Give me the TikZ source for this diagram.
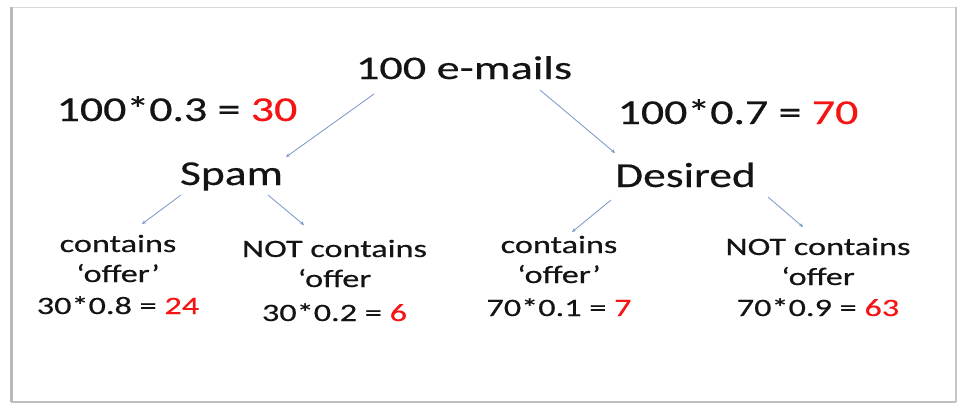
\documentclass[tikz,border=0pt]{standalone}
\usepackage{fontspec}
\usepackage{graphicx}
\setmainfont{Carlito}[UprightFeatures={FakeBold=0.35}]
\usetikzlibrary{calc,arrows.meta}
\definecolor{numred}{RGB}{245,20,20}
\definecolor{txt}{RGB}{20,20,20}
\definecolor{arrowc}{RGB}{120,150,200}
\newcommand{\hsc}[2]{\scalebox{#1}[1]{#2}}
\newcommand{\rn}[1]{\textcolor{numred}{#1}}
\tikzset{
  lbl/.style={inner sep=0pt, anchor=base, text=txt},
  big/.style={lbl, font=\fontsize{35}{42}\selectfont},
  small/.style={lbl, font=\fontsize{25}{30}\selectfont},
  arr/.style={draw=arrowc, line width=0.8pt, -{Stealth[length=4pt,width=3.5pt]}}
}
\begin{document}
\begin{tikzpicture}[x=1pt,y=-1pt]
\useasboundingbox (0,0) rectangle (958,405);
\fill[white] (0,0) rectangle (958,405);
% frame with shadow
\draw[gray!30, line width=1pt] (11,7) -- (956,7);
\draw[gray!45, line width=1.2pt] (956,7) -- (956,402);
\draw[gray!50, line width=2pt] (11,401.5) -- (956,401.5);
\draw[gray!55, line width=2.5pt] (11.5,7) -- (11.5,402);

\node[lbl, font=\fontsize{33}{40}\selectfont] (root) at (464,79) {\hsc{1.40}{100 e-mails}};
\node[big] (pspam) at (177,121) {\hsc{1.31}{100*0.3 = \rn{30}}};
\node[big] (pdes) at (738,124) {\hsc{1.31}{100*0.7 = \rn{70}}};
\node[big] (spam) at (231.5,185) {\hsc{1.30}{Spam}};
\node[big] (des) at (685.5,187) {\hsc{1.30}{Desired}};

\node[small] (l1) at (118,252) {\hsc{1.37}{\begin{tabular}[t]{@{}c@{}}contains\\ ‘offer’\\[2pt] 30*0.8 = \rn{24}\end{tabular}}};
\node[small] (l2) at (334.5,257) {\hsc{1.37}{\begin{tabular}[t]{@{}c@{}}NOT contains\\ ‘offer\\[4pt] 30*0.2 = \rn{6}\end{tabular}}};
\node[small] (l3) at (559,253) {\hsc{1.37}{\begin{tabular}[t]{@{}c@{}}contains\\ ‘offer’\\[3pt] 70*0.1 = \rn{7}\end{tabular}}};
\node[small] (l4) at (818,255) {\hsc{1.37}{\begin{tabular}[t]{@{}c@{}}NOT contains\\ ‘offer\\[1pt] 70*0.9 = \rn{63}\end{tabular}}};

\draw[arr] ($(root.base)+(-90,15)$) -- ($(spam.base)+(54.5,-28)$);
\draw[arr] ($(root.base)+(76,11)$) -- ($(des.base)+(-70.5,-34)$);
\draw[arr] ($(spam.base)+(-50.5,10)$) -- ($(l1.base)+(24,-28)$);
\draw[arr] ($(spam.base)+(36.5,10)$) -- ($(l2.base)+(-30.5,-32)$);
\draw[arr] ($(des.base)+(-74.5,13)$) -- ($(l3.base)+(13,-21)$);
\draw[arr] ($(des.base)+(82.5,10)$) -- ($(l4.base)+(-15,-28)$);
\end{tikzpicture}
\end{document}
